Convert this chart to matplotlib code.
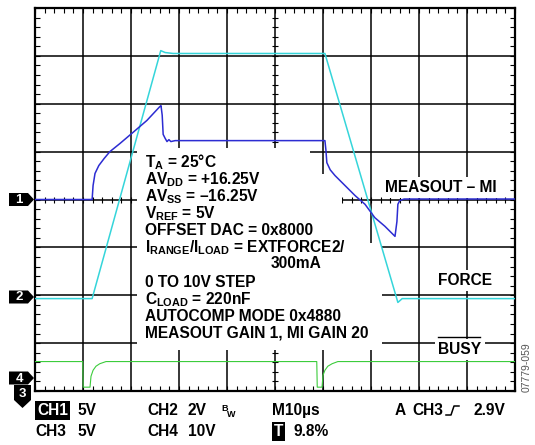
import matplotlib
matplotlib.use("Agg")
import matplotlib.pyplot as plt
import matplotlib.transforms as mtransforms
from matplotlib.patches import Polygon
from matplotlib.ticker import MultipleLocator

plt.rcParams['font.family'] = ['Liberation Sans', 'DejaVu Sans']
plt.rcParams['mathtext.fontset'] = 'custom'
plt.rcParams['mathtext.rm'] = 'Liberation Sans:bold'
plt.rcParams['mathtext.bf'] = 'Liberation Sans:bold'
plt.rcParams['mathtext.it'] = 'Liberation Sans:bold'

# channel settings (volts/div, marker position in div)
ch1_scale, ch1_pos = 5.0, 0.0
ch2_scale, ch2_pos = 2.0, -2.0
ch4_scale, ch4_pos = 10.0, -3.72

# CH1: MEASOUT - MI (time in us, volts)
ch1_t = [0, 11.9, 12.1, 12.5, 13.3, 14.4, 15.6, 17.7, 20.4, 23.3, 26.0, 26.25,
         26.5, 26.7, 27.1, 27.5, 27.9, 28.3, 29.2, 60.4, 60.6, 60.8, 61.5,
         62.5, 64.6, 66.7, 68.75, 70.8, 72.9, 75.0, 75.4, 75.6, 76.0, 76.9, 100]
ch1_v = [0, 0, 1.46, 2.72, 3.55, 4.28, 5.0, 5.85, 7.0, 8.25, 9.7, 9.8,
         8.8, 6.8, 6.4, 6.05, 6.25, 6.05, 6.15, 6.15, 5.2, 3.85, 3.1,
         2.5, 1.45, 0.4, -0.5, -1.9, -2.8, -3.85, -2.3, -0.5, -0.1, 0.05, 0.05]

# CH2: FORCE
ch2_t = [0, 11.9, 26.2, 27.1, 28.8, 60.4, 75.6, 76.5, 100]
ch2_v = [-0.14, -0.14, 10.22, 10.14, 10.1, 10.1, -0.3, -0.14, -0.14]

# CH4: BUSY
ch4_t = [0, 9.94, 10.04, 11.46, 11.67, 12.1, 12.7, 13.5, 14.8,
         58.7, 58.8, 59.8, 60.0, 60.4, 61.0, 61.9, 63.1, 100]
ch4_v = [3.35, 3.35, -2.0, -2.0, 0.28, 1.53, 2.37, 2.9, 3.35,
         3.35, -2.0, -2.0, 0.49, 1.53, 2.37, 2.9, 3.35, 3.35]

info_lines = [r'T$_{\rm A}$ = 25°C', r'AV$_{\rm DD}$ = +16.25V',
              r'AV$_{\rm SS}$ = –16.25V', r'V$_{\rm REF}$ = 5V',
              'OFFSET DAC = 0x8000',
              r'I$_{\rm RANGE}$/I$_{\rm LOAD}$ = EXTFORCE2/']
info_lines2 = ['0 TO 10V STEP', r'C$_{\rm LOAD}$ = 220nF',
               'AUTOCOMP MODE 0x4880', 'MEASOUT GAIN 1, MI GAIN 20']

fig = plt.figure(figsize=(5.35, 4.45), dpi=100)
ax = fig.add_axes([35 / 535, 1 - 391 / 445, 480 / 535, 383 / 445])
# pixel coords from top-left for decorations
px = mtransforms.Affine2D().scale(1 / 535, -1 / 445).translate(0, 1) + fig.transFigure

ax.set_xlim(0, 100)
ax.set_ylim(-4, 4)
ax.xaxis.set_major_locator(MultipleLocator(10))
ax.yaxis.set_major_locator(MultipleLocator(1))
ax.xaxis.set_minor_locator(MultipleLocator(2))
ax.yaxis.set_minor_locator(MultipleLocator(0.2))
ax.tick_params(which='both', direction='in', top=True, right=True,
               length=3.6, width=0.8, labelbottom=False, labelleft=False)
for s in ax.spines.values():
    s.set_linewidth(1.6)

for x in range(10, 100, 10):
    ax.axvline(x, color='black', lw=1.1, zorder=1)
for y in range(-3, 4):
    ax.axhline(y, color='black', lw=1.1, zorder=1)

# center axis ticks
cx = [i * 2 for i in range(1, 50)]
ax.plot(cx, [0] * len(cx), ls='none', marker='|', ms=4.5, mew=0.8, color='black', zorder=1)
cy = [-4 + i * 0.2 for i in range(1, 40)]
ax.plot([50] * len(cy), cy, ls='none', marker='_', ms=4.5, mew=0.8, color='black', zorder=1)

# white area behind the settings text
mask = Polygon([(137, 148), (310, 148), (310, 174), (342, 174), (342, 243),
                (382, 243), (382, 350), (137, 350)], closed=True,
               facecolor='white', edgecolor='none', transform=px, zorder=2, clip_on=False)
ax.add_patch(mask)


def label(x, y, s, size=11.2, **kw):
    return ax.text(x, y, s, transform=px, fontsize=size, fontweight='bold',
                   va='baseline', clip_on=False, zorder=3, **kw)


for i, s in enumerate(info_lines):
    label(145, 167 + i * 17, s)
label(271, 268, '300mA')
for i, s in enumerate(info_lines2):
    label(145, 287 + i * 17, s)

wbox = dict(facecolor='white', edgecolor='none', pad=2.5)
label(385, 192, 'MEASOUT – MI', bbox=wbox)
label(438, 285, 'FORCE', bbox=wbox)
label(438, 354, 'BUSY', bbox=wbox)
ax.plot([438, 480], [337, 337], color='black', lw=1.0, transform=px, clip_on=False, zorder=3)

# traces
ax.plot(ch2_t, [v / ch2_scale + ch2_pos for v in ch2_v], color='#35d5da', lw=1.1, zorder=4)
ax.plot(ch1_t, [v / ch1_scale + ch1_pos for v in ch1_v], color='#2c2cd2', lw=1.1, zorder=4)
ax.plot(ch4_t, [v / ch4_scale + ch4_pos for v in ch4_v], color='#3ccc3c', lw=0.8, zorder=4)

# channel markers on the left
for num, yc in [('1', 199.5), ('2', 297), ('4', 378)]:
    ax.add_patch(Polygon([(9, yc - 6.5), (28, yc - 6.5), (34, yc), (28, yc + 6.5), (9, yc + 6.5)],
                         closed=True, facecolor='black', transform=px, clip_on=False, zorder=5))
    ax.text(19, yc + 0.5, num, transform=px, color='white', fontsize=9.5, fontweight='bold',
            ha='center', va='center', clip_on=False, zorder=6)
ax.add_patch(Polygon([(14, 385), (31, 385), (31, 400), (22.5, 408), (14, 400)],
                     closed=True, facecolor='black', transform=px, clip_on=False, zorder=5))
ax.text(22.5, 394, '3', transform=px, color='white', fontsize=9.5, fontweight='bold',
        ha='center', va='center', clip_on=False, zorder=6)

# scope settings below the grid
label(37, 415, 'CH1', color='white', bbox=dict(facecolor='black', edgecolor='none', pad=1.2))
label(77, 415, '5V')
label(147, 415, 'CH2')
label(188, 415, '2V')
label(221, 411, 'B', size=6.5)
label(227, 417, 'W', size=6.5)
label(272, 415, 'M10µs')
label(395, 415, 'A')
label(412, 415, 'CH3')
ax.plot([446, 451, 454, 459], [415, 415, 406, 406], color='black', lw=1.1,
        transform=px, clip_on=False)
label(474, 415, '2.9V')
label(35, 436, 'CH3')
label(77, 436, '5V')
label(147, 436, 'CH4')
label(188, 436, '10V')
label(274, 436, 'T', color='white', bbox=dict(facecolor='black', edgecolor='none', pad=1.2))
label(294, 436, '9.8%')

ax.text(527, 367, '07779-059', transform=px, fontsize=7.5, color='#555555',
        rotation=90, ha='center', va='center', clip_on=False)

fig.savefig('out.png', dpi=100)
